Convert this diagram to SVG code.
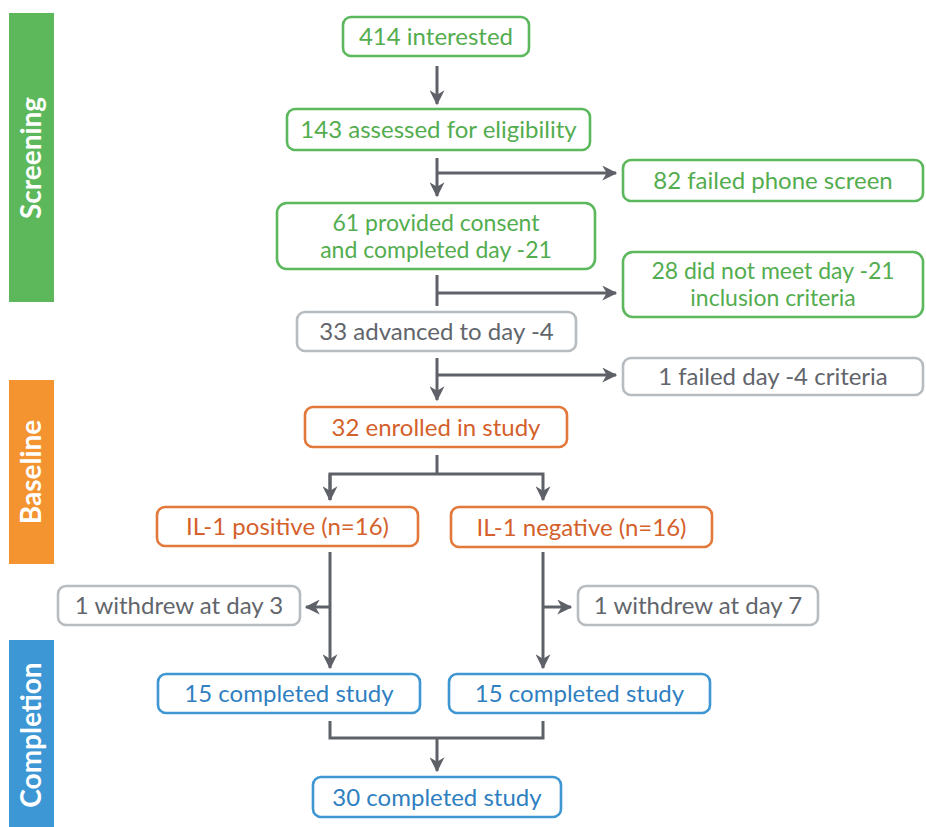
<svg xmlns="http://www.w3.org/2000/svg" width="926" height="827" viewBox="0 0 926 827">
<defs>
<marker id="arr" viewBox="0 0 12 12" refX="11" refY="6" markerWidth="15" markerHeight="15" markerUnits="userSpaceOnUse" orient="auto">
<path d="M0,0 L12,6 L0,12 L3.5,6 z" fill="#5f6168"/>
</marker>
<style>
.bx{fill:#fff;stroke-width:2.6}
.g{stroke:#5cb85c}.o{stroke:#e2783a}.b{stroke:#3e96d2}.y{stroke:#b7bcc0}
.t{font-family:Lato,"Open Sans",sans-serif;font-size:24px;text-anchor:middle}
.t2{font-size:23px}
.tg{fill:#53ad4f}.to{fill:#d4612b}.tb{fill:#2f7fc1}.ty{fill:#62656b}
.band{font-family:Lato,"Open Sans",sans-serif;font-size:28px;font-weight:bold;fill:#fff;text-anchor:middle}
.c{fill:none;stroke:#5f6168;stroke-width:3}
</style>
</defs>
<rect width="926" height="827" fill="#fff"/>
<g id="bands">
<rect x="9" y="13" width="45" height="289" fill="#5db85b"/>
<text class="band" transform="translate(41,158) rotate(-90)">Screening</text>
<rect x="9" y="380" width="45" height="184" fill="#f39431"/>
<text class="band" transform="translate(41,472) rotate(-90)">Baseline</text>
<rect x="9" y="640" width="45" height="187" fill="#3c97d4"/>
<text class="band" transform="translate(41,735) rotate(-90)">Completion</text>
</g>
<g id="connectors">
<path class="c" d="M437,66 V104" marker-end="url(#arr)"/>
<path class="c" d="M437,158 V196" marker-end="url(#arr)"/>
<path class="c" d="M437,173 H616" marker-end="url(#arr)"/>
<path class="c" d="M437,275 V306"/>
<path class="c" d="M437,293 H616" marker-end="url(#arr)"/>
<path class="c" d="M437,358 V400" marker-end="url(#arr)"/>
<path class="c" d="M437,375 H616" marker-end="url(#arr)"/>
<path class="c" d="M437,455 V474"/>
<path class="c" d="M330,500 V474 H543 V500" marker-end="url(#arr)"/>
<path class="c" d="M330,474 V500" marker-end="url(#arr)"/>
<path class="c" d="M330,552 V668" marker-end="url(#arr)"/>
<path class="c" d="M330,607 H306" marker-end="url(#arr)"/>
<path class="c" d="M543,552 V668" marker-end="url(#arr)"/>
<path class="c" d="M543,607 H571" marker-end="url(#arr)"/>
<path class="c" d="M330,721 V738 H543 V721"/>
<path class="c" d="M437,738 V771" marker-end="url(#arr)"/>
</g>
<g id="n414"><rect class="bx g" x="343" y="17" width="186" height="39" rx="8"/><text class="t tg" x="436" y="45">414 interested</text></g>
<g id="n143"><rect class="bx g" x="287" y="109" width="303" height="41" rx="8"/><text class="t tg" x="438.5" y="138">143 assessed for eligibility</text></g>
<g id="n82"><rect class="bx g" x="623" y="160" width="300" height="41" rx="8"/><text class="t tg" x="773" y="189">82 failed phone screen</text></g>
<g id="n61"><rect class="bx g" x="277" y="203" width="318" height="66" rx="10"/><text class="t t2 tg" x="436" y="231">61 provided consent</text><text class="t t2 tg" x="436" y="258">and completed day -21</text></g>
<g id="n28"><rect class="bx g" x="623" y="252" width="300" height="65" rx="10"/><text class="t t2 tg" x="773" y="279">28 did not meet day -21</text><text class="t t2 tg" x="773" y="306">inclusion criteria</text></g>
<g id="n33"><rect class="bx y" x="297" y="312" width="279" height="39" rx="8"/><text class="t ty" x="436.5" y="340">33 advanced to day -4</text></g>
<g id="n1f"><rect class="bx y" x="623" y="358" width="300" height="37" rx="8"/><text class="t ty" x="773" y="385">1 failed day -4 criteria</text></g>
<g id="n32"><rect class="bx o" x="305" y="407" width="262" height="40" rx="8"/><text class="t to" x="436" y="435.5">32 enrolled in study</text></g>
<g id="npos"><rect class="bx o" x="157" y="507" width="261" height="39" rx="8"/><text class="t to" x="287.5" y="535">IL-1 positive (n=16)</text></g>
<g id="nneg"><rect class="bx o" x="451" y="507" width="261" height="40" rx="8"/><text class="t to" x="581.5" y="535.5">IL-1 negative (n=16)</text></g>
<g id="nw3"><rect class="bx y" x="58" y="586" width="242" height="39" rx="8"/><text class="t ty" x="179" y="614">1 withdrew at day 3</text></g>
<g id="nw7"><rect class="bx y" x="578" y="586" width="240" height="39" rx="8"/><text class="t ty" x="698" y="614">1 withdrew at day 7</text></g>
<g id="nc1"><rect class="bx b" x="158" y="674" width="262" height="39" rx="8"/><text class="t tb" x="289" y="702">15 completed study</text></g>
<g id="nc2"><rect class="bx b" x="449" y="674" width="261" height="39" rx="8"/><text class="t tb" x="579.5" y="702">15 completed study</text></g>
<g id="nc30"><rect class="bx b" x="313" y="777" width="248" height="40" rx="8"/><text class="t tb" x="437" y="805.5">30 completed study</text></g>
</svg>
